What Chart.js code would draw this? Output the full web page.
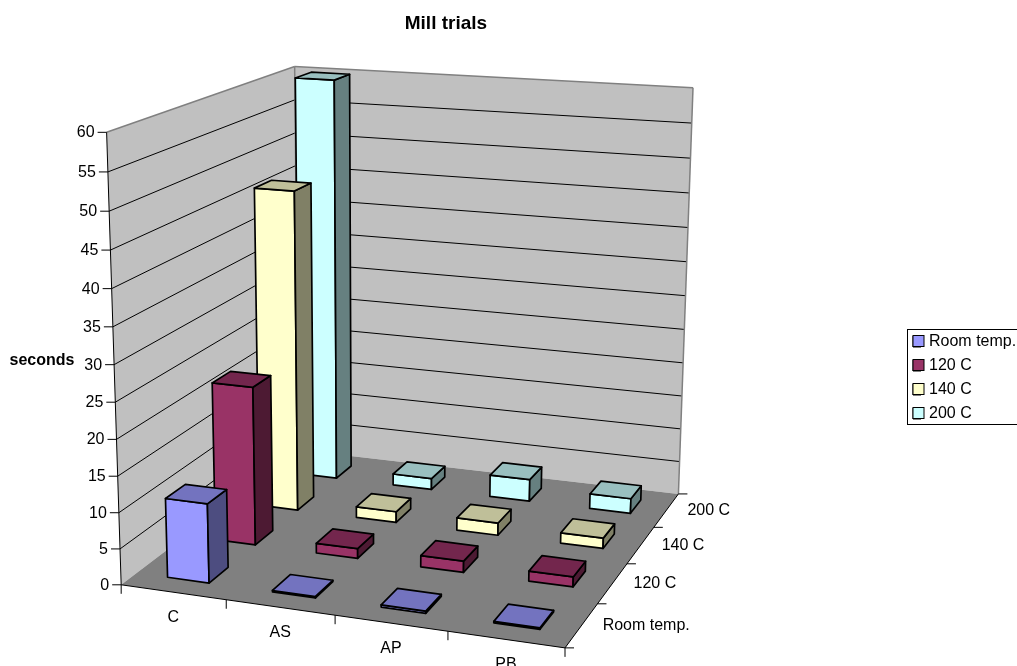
<!DOCTYPE html>
<html>
<head>
<meta charset="utf-8">
<title>Mill trials</title>
<script src="https://cdn.jsdelivr.net/npm/chart.js@4"></script>
<style>
    html, body { margin: 0; padding: 0; background: #fff; overflow: hidden; }
    canvas { display: block; }
</style>
</head>
<body>
<canvas id="millChart" width="1017" height="666"></canvas>
<script>
const categories = ['C', 'AS', 'AP', 'PB'];
const seriesNames = ['Room temp.', '120 C', '140 C', '200 C'];
const roomTemp = [11, 0.2, 0.3, 0.2];
const temp120 = [22.6, 1.4, 1.6, 1.4];
const temp140 = [46.7, 1.6, 1.8, 1.5];
const temp200 = [60, 1.7, 3.3, 2.2];

const frontColors = ['#9999FF', '#993366', '#FFFFCC', '#CCFFFF'];
const topColors = ['#7373BF', '#73264D', '#BFBF99', '#99BFBF'];
const sideColors = ['#4D4D80', '#4D1A33', '#808066', '#668080'];

// where the cube corners (across, depth, height) land on the canvas
const cubeCorners = [
    [0, 0, 0, 122.7, 585],
    [1, 0, 0, 564.3, 648.3],
    [1, 1, 0, 679.3, 493.3],
    [0, 1, 0, 297, 450],
    [0, 0, 1, 105.7, 131.7],
    [0, 1, 1, 295.7, 66.7],
    [1, 1, 1, 692.7, 88]
];
const barShare = 0.4;

function solve(a, b) {
    const n = b.length;
    for (let i = 0; i < n; i++) {
        let best = i;
        for (let r = i + 1; r < n; r++) {
            if (Math.abs(a[r][i]) > Math.abs(a[best][i])) best = r;
        }
        [a[i], a[best]] = [a[best], a[i]];
        [b[i], b[best]] = [b[best], b[i]];
        for (let r = i + 1; r < n; r++) {
            const f = a[r][i] / a[i][i];
            for (let c = i; c < n; c++) a[r][c] -= f * a[i][c];
            b[r] -= f * b[i];
        }
    }
    const out = new Array(n).fill(0);
    for (let i = n - 1; i >= 0; i--) {
        let s = b[i];
        for (let c = i + 1; c < n; c++) s -= a[i][c] * out[c];
        out[i] = s / a[i][i];
    }
    return out;
}

// least squares fit of the 3x4 camera matrix, last term fixed to 1
function fitCamera(corners) {
    const ata = Array.from({ length: 11 }, () => new Array(11).fill(0));
    const atb = new Array(11).fill(0);
    const addRow = (row, rhs) => {
        for (let i = 0; i < 11; i++) {
            atb[i] += row[i] * rhs;
            for (let j = 0; j < 11; j++) ata[i][j] += row[i] * row[j];
        }
    };
    corners.forEach(([u, v, w, px, py]) => {
        const x = px / 1000, y = py / 1000;
        addRow([u, v, w, 1, 0, 0, 0, 0, -x * u, -x * v, -x * w], x);
        addRow([0, 0, 0, 0, u, v, w, 1, -y * u, -y * v, -y * w], y);
    });
    return solve(ata, atb);
}

const cam = fitCamera(cubeCorners);

function project(u, v, w) {
    const d = cam[8] * u + cam[9] * v + cam[10] * w + 1;
    return {
        x: 1000 * (cam[0] * u + cam[1] * v + cam[2] * w + cam[3]) / d,
        y: 1000 * (cam[4] * u + cam[5] * v + cam[6] * w + cam[7]) / d
    };
}

function face(ctx, points, fill, stroke, width) {
    ctx.beginPath();
    points.forEach((p, i) => {
        const q = project(p[0], p[1], p[2]);
        if (i === 0) ctx.moveTo(q.x, q.y);
        else ctx.lineTo(q.x, q.y);
    });
    ctx.closePath();
    if (fill) {
        ctx.fillStyle = fill;
        ctx.fill();
    }
    if (stroke) {
        ctx.strokeStyle = stroke;
        ctx.lineWidth = width;
        ctx.stroke();
    }
}

function line(ctx, a, b, color, width) {
    const p = project(a[0], a[1], a[2]);
    const q = project(b[0], b[1], b[2]);
    ctx.beginPath();
    ctx.moveTo(p.x, p.y);
    ctx.lineTo(q.x, q.y);
    ctx.strokeStyle = color;
    ctx.lineWidth = width;
    ctx.stroke();
}

function tickMark(ctx, point, dx, dy) {
    const p = project(point[0], point[1], point[2]);
    ctx.beginPath();
    ctx.moveTo(p.x, p.y);
    ctx.lineTo(p.x + dx, p.y + dy);
    ctx.strokeStyle = '#000';
    ctx.lineWidth = 1;
    ctx.stroke();
}

function heightOf(yScale, value) {
    return (yScale.bottom - yScale.getPixelForValue(value)) / yScale.height;
}

function fractionOn(scale, index) {
    return (scale.getPixelForValue(index) - scale.left) / scale.width;
}

// bars as boxes on the floor, one row of boxes per dataset
class Box3DController extends Chart.BarController {
    draw() {
        const { ctx, scales } = this.chart;
        const data = this.getDataset().data;
        const idx = this.index;
        const halfU = barShare / categories.length / 2;
        const halfV = barShare / seriesNames.length / 2;
        const v = fractionOn(scales.depth, idx);
        ctx.save();
        ctx.lineJoin = 'round';
        data.forEach((value, i) => {
            const u = fractionOn(scales.x, i);
            const w = heightOf(scales.y, value);
            const u0 = u - halfU, u1 = u + halfU, v0 = v - halfV, v1 = v + halfV;
            face(ctx, [[u0, v0, 0], [u1, v0, 0], [u1, v0, w], [u0, v0, w]], frontColors[idx], '#000', 1.7);
            face(ctx, [[u1, v0, 0], [u1, v1, 0], [u1, v1, w], [u1, v0, w]], sideColors[idx], '#000', 1.7);
            face(ctx, [[u0, v0, w], [u1, v0, w], [u1, v1, w], [u0, v1, w]], topColors[idx], '#000', 1.7);
        });
        ctx.restore();
    }
}
Box3DController.id = 'box3d';
Box3DController.defaults = Chart.BarController.defaults;
Box3DController.overrides = Chart.BarController.overrides;
Chart.register(Box3DController);

const roomPlugin = {
    id: 'room',
    afterLayout(chart) {
        // legend sits right of the plot, lower than the default centring
        const legend = chart.legend;
        const w = legend.width, h = legend.height;
        legend.left = 905;
        legend.right = 905 + w;
        legend.top = 325.5;
        legend.bottom = 325.5 + h;
    },
    beforeDatasetsDraw(chart) {
        const { ctx, scales } = chart;
        ctx.save();

        // walls and floor
        face(ctx, [[0, 0, 0], [0, 1, 0], [0, 1, 1], [0, 0, 1]], '#C0C0C0');
        face(ctx, [[0, 1, 0], [1, 1, 0], [1, 1, 1], [0, 1, 1]], '#C0C0C0');
        face(ctx, [[0, 0, 0], [1, 0, 0], [1, 1, 0], [0, 1, 0]], '#808080');

        scales.y.ticks.forEach((tick) => {
            const w = heightOf(scales.y, tick.value);
            if (w > 0 && w < 1) {
                line(ctx, [0, 0, w], [0, 1, w], '#000', 1);
                line(ctx, [0, 1, w], [1, 1, w], '#000', 1);
            }
        });

        line(ctx, [0, 0, 1], [0, 1, 1], '#808080', 1.5);
        line(ctx, [0, 1, 1], [1, 1, 1], '#808080', 1.5);
        line(ctx, [1, 1, 1], [1, 1, 0], '#808080', 1.5);
        line(ctx, [0, 1, 1], [0, 1, 0], '#808080', 1.5);
        line(ctx, [0, 0, 0], [0, 0, 1], '#000', 1);
        line(ctx, [0, 0, 0], [1, 0, 0], '#000', 1);
        line(ctx, [1, 0, 0], [1, 1, 0], '#000', 1);

        // tick marks and labels
        ctx.font = '16px "Liberation Sans"';
        ctx.fillStyle = '#000';
        ctx.textBaseline = 'middle';

        ctx.textAlign = 'right';
        scales.y.ticks.forEach((tick) => {
            const at = [0, 0, heightOf(scales.y, tick.value)];
            tickMark(ctx, at, -9, 0);
            const p = project(at[0], at[1], at[2]);
            ctx.fillText(tick.label, p.x - 12, p.y + 0.5);
        });

        ctx.textAlign = 'center';
        categories.forEach((name, i) => {
            tickMark(ctx, [i / categories.length, 0, 0], 0, 9);
            const p = project(fractionOn(scales.x, i), 0, 0);
            ctx.fillText(name, p.x, p.y + 25);
        });
        tickMark(ctx, [1, 0, 0], 0, 9);

        ctx.textAlign = 'left';
        seriesNames.forEach((name, i) => {
            tickMark(ctx, [1, i / seriesNames.length, 0], 9, 0);
            const p = project(1, fractionOn(scales.depth, i), 0);
            ctx.fillText(name, p.x + 21, p.y + 0.5);
        });
        tickMark(ctx, [1, 1, 0], 9, 0);

        ctx.font = 'bold 16px "Liberation Sans"';
        ctx.textAlign = 'center';
        ctx.fillText('seconds', 42, 361);
        ctx.restore();
    },
    afterDraw(chart) {
        const { ctx, legend } = chart;
        ctx.save();
        ctx.strokeStyle = '#000';
        ctx.lineWidth = 1;
        ctx.strokeRect(907.5, 329.5, 130, 95);
        // wider colour keys than the library's box size allows next to the text
        legend.legendItems.forEach((item, i) => {
            ctx.fillStyle = item.fillStyle;
            ctx.fillRect(913, 335.5 + i * 24, 11, 11);
            ctx.strokeRect(913, 335.5 + i * 24, 11, 11);
        });
        ctx.restore();
    }
};

const colors = frontColors;
new Chart(document.getElementById('millChart').getContext('2d'), {
    type: 'box3d',
    data: {
        labels: categories,
        datasets: [
            { label: seriesNames[0], data: roomTemp, backgroundColor: colors[0], borderColor: '#000', borderWidth: 1 },
            { label: seriesNames[1], data: temp120, backgroundColor: colors[1], borderColor: '#000', borderWidth: 1 },
            { label: seriesNames[2], data: temp140, backgroundColor: colors[2], borderColor: '#000', borderWidth: 1 },
            { label: seriesNames[3], data: temp200, backgroundColor: colors[3], borderColor: '#000', borderWidth: 1 }
        ]
    },
    options: {
        responsive: false,
        animation: false,
        events: [],
        font: { family: '"Liberation Sans"' },
        layout: { padding: { right: 4 } },
        scales: {
            x: { display: false },
            depth: { type: 'category', axis: 'x', labels: seriesNames, offset: true, display: false },
            y: { display: false, min: 0, max: 60, ticks: { stepSize: 5 } }
        },
        plugins: {
            title: {
                display: true,
                text: 'Mill trials',
                fullSize: false,
                color: '#000',
                padding: { top: 12, bottom: 10 },
                font: { family: '"Liberation Sans"', size: 19, weight: 'bold' }
            },
            legend: {
                position: 'right',
                align: 'start',
                labels: {
                    color: '#000',
                    boxWidth: 8,
                    boxHeight: 11,
                    padding: 8,
                    font: { family: '"Liberation Sans"', size: 16 }
                }
            },
            tooltip: { enabled: false }
        }
    },
    plugins: [roomPlugin]
});
</script>
</body>
</html>
